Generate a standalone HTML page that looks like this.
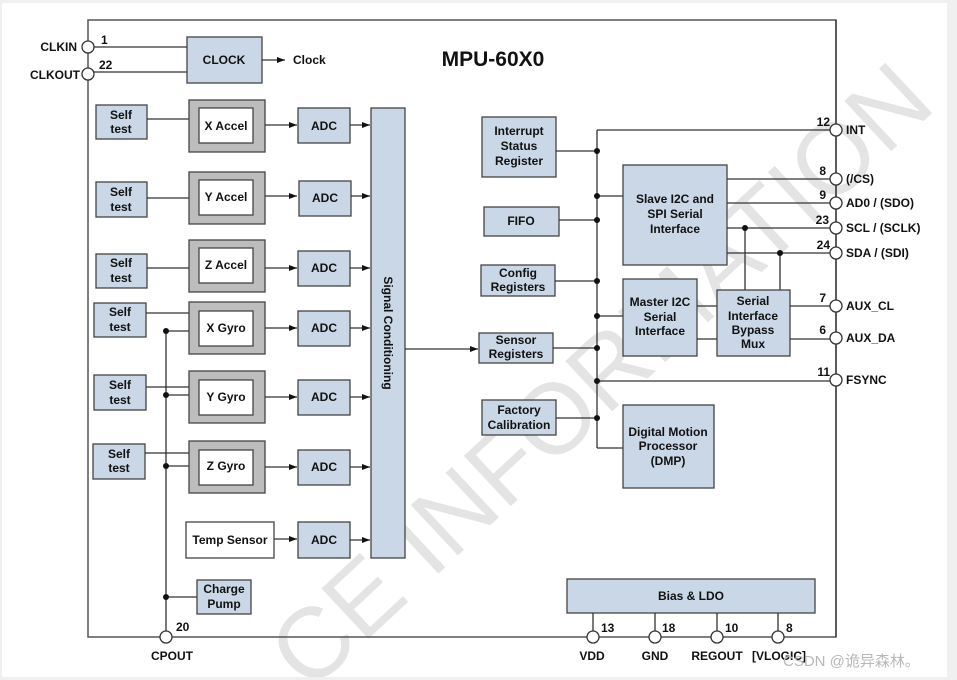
<!DOCTYPE html>
<html><head><meta charset="utf-8"><style>
html,body{margin:0;padding:0;background:#f0f0f0;width:957px;height:680px;overflow:hidden;}
svg{display:block;overflow:hidden;}
text{font-family:"Liberation Sans",Arial,sans-serif;font-weight:bold;font-size:12px;fill:#111;}
.b{fill:#c9d7e6;stroke:#444;stroke-width:1.3;}
.g{fill:#bdbdbd;stroke:#444;stroke-width:1.3;}
.w{fill:#fff;stroke:#444;stroke-width:1.3;}
.l{stroke:#333;stroke-width:1.3;fill:none;}
.p{fill:#fff;stroke:#333;stroke-width:1.3;}
.c{text-anchor:middle;}
</style></head><body>
<svg width="957" height="680" viewBox="0 0 957 680" xmlns="http://www.w3.org/2000/svg">
<defs><marker id="a" markerWidth="8" markerHeight="6" refX="8" refY="3" orient="auto" markerUnits="userSpaceOnUse"><path d="M0,0 L8,3 L0,6 z" fill="#111"/></marker>
<clipPath id="cp"><rect x="2" y="3" width="945" height="674"/></clipPath></defs>
<rect x="2" y="3" width="945" height="674" fill="#fff"/>
<g clip-path="url(#cp)"><text x="600" y="410" transform="rotate(-43 600 375)" text-anchor="middle" style="font-size:100px;font-weight:normal;fill:#e4e4e4">CE INFORMATION</text></g>
<rect x="88" y="20" width="748" height="617" fill="none" stroke="#555" stroke-width="1.5"/>
<text x="493" y="66" class="c" style="font-size:21px">MPU-60X0</text>

<line class="l" x1="94" y1="47" x2="187" y2="47"/><line class="l" x1="94" y1="72" x2="187" y2="72"/>
<circle class="p" cx="88" cy="47" r="6"/><circle class="p" cx="88" cy="74" r="6"/>
<text x="77" y="51" text-anchor="end">CLKIN</text><text x="80" y="79" text-anchor="end">CLKOUT</text>
<text x="101" y="44">1</text><text x="99" y="69">22</text>
<rect class="b" x="187" y="37" width="75" height="46"/><text x="224" y="64" class="c">CLOCK</text>
<line class="l" x1="262" y1="60" x2="285" y2="60" marker-end="url(#a)"/><text x="293" y="64">Clock</text>

<g>
<rect class="b" x="96" y="105" width="51" height="34"/><text x="121" y="119" class="c">Self</text><text x="121" y="133" class="c">test</text>
<line class="l" x1="147" y1="119" x2="189" y2="119"/>
<rect class="g" x="189" y="100" width="76" height="52"/><rect class="w" x="199" y="108" width="54" height="35"/><text x="226" y="130" class="c">X Accel</text>
<line class="l" x1="265" y1="125" x2="297" y2="125" marker-end="url(#a)"/>
<rect class="b" x="298" y="108" width="52" height="35"/><text x="324" y="130" class="c">ADC</text>
<line class="l" x1="350" y1="125" x2="370" y2="125" marker-end="url(#a)"/>

<rect class="b" x="96" y="182" width="51" height="35"/><text x="121" y="196" class="c">Self</text><text x="121" y="211" class="c">test</text>
<line class="l" x1="147" y1="198" x2="189" y2="198"/>
<rect class="g" x="189" y="172" width="76" height="52"/><rect class="w" x="199" y="180" width="54" height="35"/><text x="226" y="201" class="c">Y Accel</text>
<line class="l" x1="265" y1="196" x2="297" y2="196" marker-end="url(#a)"/>
<rect class="b" x="299" y="181" width="52" height="35"/><text x="325" y="202" class="c">ADC</text>
<line class="l" x1="351" y1="196" x2="370" y2="196" marker-end="url(#a)"/>

<rect class="b" x="96" y="254" width="51" height="34"/><text x="121" y="267" class="c">Self</text><text x="121" y="282" class="c">test</text>
<line class="l" x1="147" y1="268" x2="189" y2="268"/>
<rect class="g" x="189" y="240" width="76" height="52"/><rect class="w" x="199" y="248" width="54" height="35"/><text x="226" y="269" class="c">Z Accel</text>
<line class="l" x1="265" y1="268" x2="297" y2="268" marker-end="url(#a)"/>
<rect class="b" x="298" y="251" width="52" height="35"/><text x="324" y="272" class="c">ADC</text>
<line class="l" x1="350" y1="268" x2="370" y2="268" marker-end="url(#a)"/>

<line class="l" x1="166" y1="331" x2="166" y2="631"/>
<rect class="b" x="94" y="303" width="52" height="34"/><text x="120" y="316" class="c">Self</text><text x="120" y="331" class="c">test</text>
<line class="l" x1="146" y1="313" x2="189" y2="313"/><line class="l" x1="166" y1="331" x2="189" y2="331"/><circle cx="166" cy="331" r="3" fill="#111"/>
<rect class="g" x="189" y="302" width="76" height="52"/><rect class="w" x="199" y="311" width="54" height="35"/><text x="226" y="332" class="c">X Gyro</text>
<line class="l" x1="265" y1="328" x2="297" y2="328" marker-end="url(#a)"/>
<rect class="b" x="298" y="311" width="52" height="35"/><text x="324" y="332" class="c">ADC</text>
<line class="l" x1="350" y1="328" x2="370" y2="328" marker-end="url(#a)"/>

<rect class="b" x="94" y="375" width="52" height="35"/><text x="120" y="389" class="c">Self</text><text x="120" y="404" class="c">test</text>
<line class="l" x1="146" y1="387" x2="189" y2="387"/><line class="l" x1="166" y1="395" x2="189" y2="395"/><circle cx="166" cy="395" r="3" fill="#111"/>
<rect class="g" x="189" y="371" width="76" height="52"/><rect class="w" x="199" y="380" width="54" height="35"/><text x="226" y="401" class="c">Y Gyro</text>
<line class="l" x1="265" y1="397" x2="297" y2="397" marker-end="url(#a)"/>
<rect class="b" x="298" y="380" width="52" height="35"/><text x="324" y="401" class="c">ADC</text>
<line class="l" x1="350" y1="397" x2="370" y2="397" marker-end="url(#a)"/>

<rect class="b" x="93" y="444" width="52" height="35"/><text x="119" y="458" class="c">Self</text><text x="119" y="472" class="c">test</text>
<line class="l" x1="145" y1="453" x2="189" y2="453"/><line class="l" x1="166" y1="466" x2="189" y2="466"/><circle cx="166" cy="466" r="3" fill="#111"/>
<rect class="g" x="189" y="441" width="76" height="52"/><rect class="w" x="199" y="450" width="54" height="35"/><text x="226" y="470" class="c">Z Gyro</text>
<line class="l" x1="265" y1="467" x2="297" y2="467" marker-end="url(#a)"/>
<rect class="b" x="298" y="450" width="52" height="35"/><text x="324" y="471" class="c">ADC</text>
<line class="l" x1="350" y1="467" x2="370" y2="467" marker-end="url(#a)"/>

<rect class="w" x="186" y="522" width="88" height="36"/><text x="230" y="544" class="c">Temp Sensor</text>
<line class="l" x1="274" y1="539" x2="297" y2="539" marker-end="url(#a)"/>
<rect class="b" x="298" y="522" width="52" height="36"/><text x="324" y="544" class="c">ADC</text>
<line class="l" x1="350" y1="540" x2="370" y2="540" marker-end="url(#a)"/>

<line class="l" x1="166" y1="597" x2="197" y2="597"/><circle cx="166" cy="597" r="3" fill="#111"/>
<rect class="b" x="197" y="580" width="54" height="34"/><text x="224" y="593" class="c">Charge</text><text x="224" y="608" class="c">Pump</text>
<circle class="p" cx="166" cy="637" r="6"/><text x="176" y="631">20</text><text x="172" y="660" class="c">CPOUT</text>
</g>

<rect class="b" x="371" y="108" width="34" height="450"/>
<text x="384" y="333" class="c" transform="rotate(90 384 333)">Signal Conditioning</text>
<line class="l" x1="405" y1="349" x2="478" y2="349" marker-end="url(#a)"/>

<line class="l" x1="597" y1="130" x2="597" y2="448"/>
<line class="l" x1="597" y1="130" x2="830" y2="130"/>
<line class="l" x1="836" y1="20" x2="836" y2="637"/>
<rect class="b" x="482" y="117" width="74" height="60"/><text x="519" y="135" class="c">Interrupt</text><text x="519" y="150" class="c">Status</text><text x="519" y="165" class="c">Register</text>
<line class="l" x1="556" y1="151" x2="597" y2="151"/>
<rect class="b" x="484" y="207" width="75" height="29"/><text x="521" y="225" class="c">FIFO</text>
<line class="l" x1="559" y1="220" x2="597" y2="220"/>
<rect class="b" x="481" y="265" width="74" height="31"/><text x="518" y="277" class="c">Config</text><text x="518" y="291" class="c">Registers</text>
<line class="l" x1="555" y1="281" x2="597" y2="281"/>
<rect class="b" x="479" y="333" width="74" height="30"/><text x="516" y="344" class="c">Sensor</text><text x="516" y="358" class="c">Registers</text>
<line class="l" x1="553" y1="348" x2="597" y2="348"/>
<rect class="b" x="482" y="400" width="74" height="35"/><text x="519" y="414" class="c">Factory</text><text x="519" y="429" class="c">Calibration</text>
<line class="l" x1="556" y1="418" x2="597" y2="418"/>

<line class="l" x1="597" y1="196" x2="623" y2="196"/>
<line class="l" x1="597" y1="316" x2="623" y2="316"/>
<line class="l" x1="597" y1="381" x2="830" y2="381"/>
<line class="l" x1="597" y1="448" x2="623" y2="448"/>
<g fill="#111"><circle cx="597" cy="151" r="3"/><circle cx="597" cy="196" r="3"/><circle cx="597" cy="220" r="3"/><circle cx="597" cy="281" r="3"/><circle cx="597" cy="316" r="3"/><circle cx="597" cy="348" r="3"/><circle cx="597" cy="381" r="3"/><circle cx="597" cy="418" r="3"/></g>

<rect class="b" x="623" y="165" width="104" height="100"/><text x="675" y="203" class="c">Slave I2C and</text><text x="675" y="218" class="c">SPI Serial</text><text x="675" y="233" class="c">Interface</text>
<line class="l" x1="727" y1="179" x2="830" y2="179"/><line class="l" x1="727" y1="203" x2="830" y2="203"/><line class="l" x1="727" y1="228" x2="830" y2="228"/><line class="l" x1="727" y1="253" x2="830" y2="253"/>
<line class="l" x1="745" y1="228" x2="745" y2="290"/><line class="l" x1="780" y1="253" x2="780" y2="290"/>
<circle cx="745" cy="228" r="3" fill="#111"/><circle cx="780" cy="253" r="3" fill="#111"/>
<rect class="b" x="623" y="279" width="74" height="77"/><text x="660" y="306" class="c">Master I2C</text><text x="660" y="321" class="c">Serial</text><text x="660" y="335" class="c">Interface</text>
<line class="l" x1="697" y1="306" x2="717" y2="306"/><line class="l" x1="697" y1="339" x2="717" y2="339"/>
<rect class="b" x="717" y="290" width="73" height="66"/><text x="753" y="305" class="c">Serial</text><text x="753" y="320" class="c">Interface</text><text x="753" y="334" class="c">Bypass</text><text x="753" y="348" class="c">Mux</text>
<line class="l" x1="790" y1="306" x2="830" y2="306"/><line class="l" x1="790" y1="339" x2="830" y2="339"/>
<rect class="b" x="623" y="405" width="91" height="83"/><text x="668" y="436" class="c">Digital Motion</text><text x="668" y="450" class="c">Processor</text><text x="668" y="465" class="c">(DMP)</text>

<g>
<circle class="p" cx="836" cy="130" r="6"/><text x="830" y="126" text-anchor="end">12</text><text x="846" y="134">INT</text>
<circle class="p" cx="836" cy="179" r="6"/><text x="826" y="175" text-anchor="end">8</text><text x="846" y="183">(/CS)</text>
<circle class="p" cx="836" cy="203" r="6"/><text x="826" y="199" text-anchor="end">9</text><text x="846" y="207">AD0 / (SDO)</text>
<circle class="p" cx="836" cy="228" r="6"/><text x="829" y="224" text-anchor="end">23</text><text x="846" y="232">SCL / (SCLK)</text>
<circle class="p" cx="836" cy="253" r="6"/><text x="830" y="249" text-anchor="end">24</text><text x="846" y="257">SDA / (SDI)</text>
<circle class="p" cx="836" cy="306" r="6"/><text x="826" y="302" text-anchor="end">7</text><text x="846" y="310">AUX_CL</text>
<circle class="p" cx="836" cy="338" r="6"/><text x="826" y="334" text-anchor="end">6</text><text x="846" y="342">AUX_DA</text>
<circle class="p" cx="836" cy="380" r="6"/><text x="830" y="376" text-anchor="end">11</text><text x="846" y="384">FSYNC</text>
</g>

<rect class="b" x="567" y="579" width="248" height="34"/><text x="691" y="600" class="c">Bias &amp; LDO</text>
<line class="l" x1="593" y1="613" x2="593" y2="631"/><line class="l" x1="655" y1="613" x2="655" y2="631"/><line class="l" x1="717" y1="613" x2="717" y2="631"/><line class="l" x1="778" y1="613" x2="778" y2="631"/>
<circle class="p" cx="593" cy="637" r="6"/><circle class="p" cx="655" cy="637" r="6"/><circle class="p" cx="717" cy="637" r="6"/><circle class="p" cx="778" cy="637" r="6"/>
<text x="601" y="632">13</text><text x="662" y="632">18</text><text x="725" y="632">10</text><text x="786" y="632">8</text>
<text x="592" y="660" class="c">VDD</text><text x="655" y="660" class="c">GND</text><text x="717" y="660" class="c">REGOUT</text><text x="779" y="660" class="c">[VLOGIC]</text>
<text x="783" y="666" style="font-weight:normal;font-size:15px;fill:#b8b8b8;font-family:'Liberation Sans','Noto Sans CJK SC',sans-serif">CSDN @诡异森林。</text>
</svg>
</body></html>
